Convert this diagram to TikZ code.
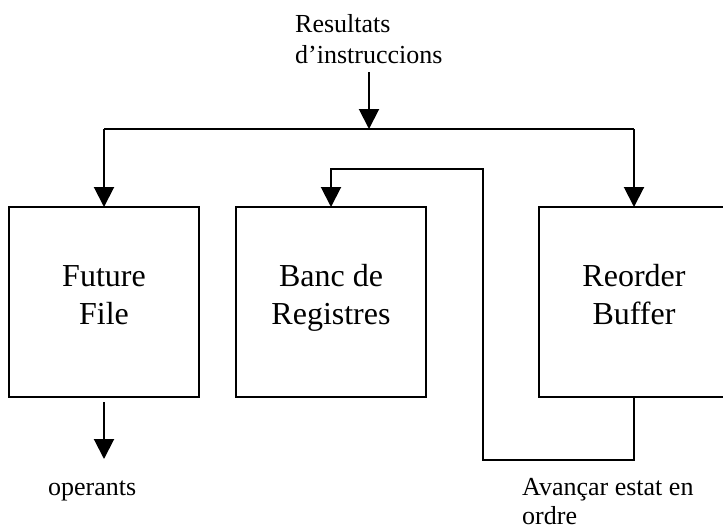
\documentclass[tikz,border=0pt]{standalone}
\usepackage{fontspec}
\setmainfont{Liberation Serif}
\usetikzlibrary{arrows.meta}
\begin{document}
\begin{tikzpicture}[x=1pt,y=-1pt,
  unitbox/.style={draw, line width=2pt, minimum width=190pt, minimum height=190pt,
    inner sep=0pt, outer sep=0pt, anchor=north west},
  wire/.style={line width=2pt},
  flow/.style={wire, -{Triangle[width=20pt,length=20pt]}},
  boxtext/.style={anchor=base, inner sep=0pt, font=\fontsize{32}{38}\selectfont},
  note/.style={anchor=base west, inner sep=0pt, font=\fontsize{26}{31}\selectfont}]
\clip (0,0) rectangle (723,531);

% the three storage units
\node[unitbox] (ff)  at (9,207)   {};
\node[unitbox] (br)  at (236,207) {};
\node[unitbox] (rob) at (539,207) {};

\node[boxtext] (ffa)  at (104,286) {Future};
\node[boxtext] (ffb)  at (104,324) {File};
\node[boxtext] (bra)  at (331,286) {Banc de};
\node[boxtext] (brb)  at (331,324) {Registres};
\node[boxtext] (roba) at (634,286) {Reorder};
\node[boxtext] (robb) at (634,324) {Buffer};

% labels
\node[note] (res1) at (295,32) {Resultats};
\node[note] (res2) at (295,63) {d’instruccions};
\node[note] (ops)  at (48,495) {operants};
\node[note] (adv1) at (522,495) {Avançar estat en};
\node[note] (adv2) at (522,524) {ordre};

% result bus feeding future file and reorder buffer
\coordinate (in)  at (369,72);
\coordinate (bus) at (369,129);
\coordinate (busl) at (104,129);
\coordinate (busr) at (634,129);
\draw[flow] (in) -- (bus);
\draw[wire] (busl) -- (busr);
\draw[flow] (busl) -- (ff.north);
\draw[flow] (busr) -- (rob.north);

% in-order commit from reorder buffer to register file
\draw[flow] (rob.south) -- (634,460) -- (483,460) -- (483,169) -- (331,169) -- (br.north);

% operands out of the future file
\coordinate (opsrc) at (104,402);
\coordinate (opdst) at (104,459);
\draw[flow] (opsrc) -- (opdst);
\end{tikzpicture}
\end{document}
